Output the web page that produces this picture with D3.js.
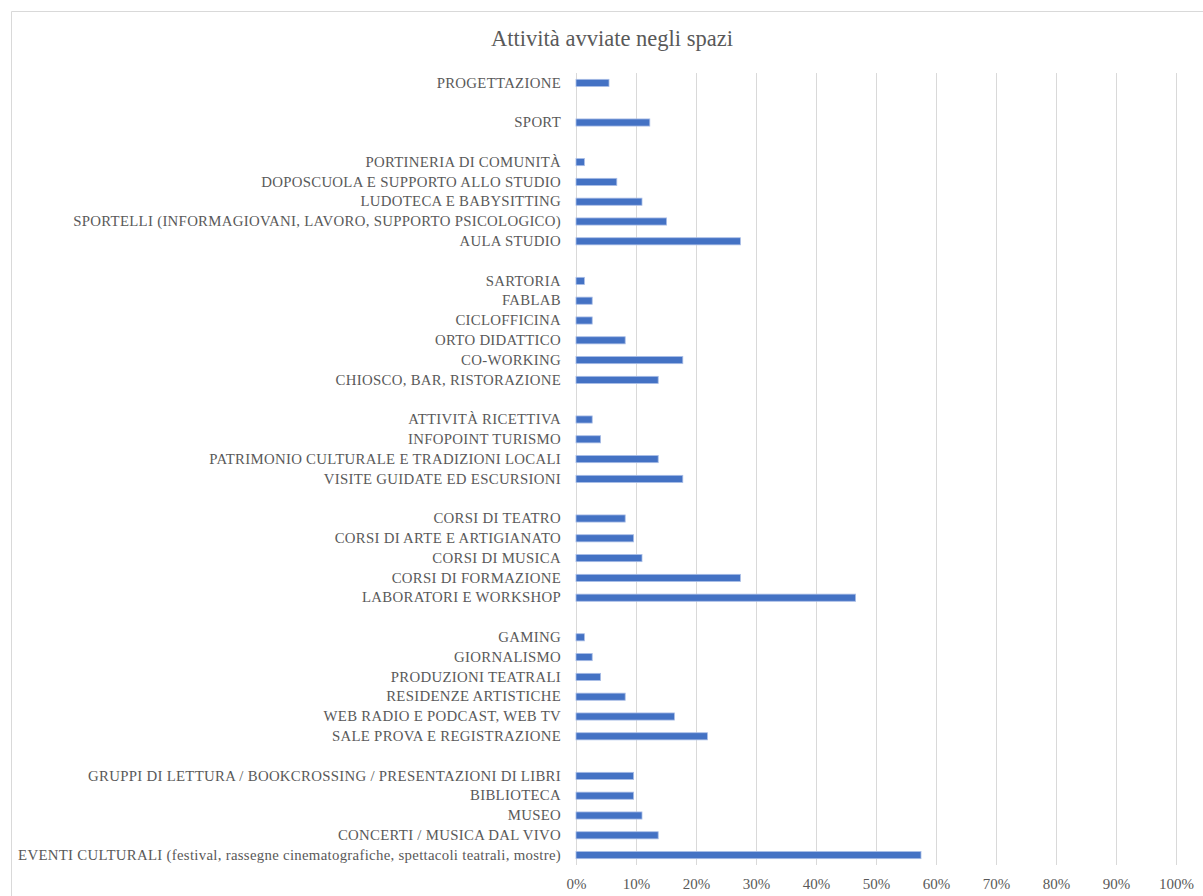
<!DOCTYPE html>
<html>
<head>
<meta charset="utf-8">
<script src="https://cdn.jsdelivr.net/npm/d3@7"></script>
<style>
  html, body { margin: 0; padding: 0; background: #ffffff; }
  svg { display: block; }
  text { font-family: "Liberation Serif", "DejaVu Serif", serif; fill: #595959; }
</style>
</head>
<body>
<svg id="chart" width="1203" height="896"></svg>
<script>
// Activities started in the spaces, share of respondents (top to bottom).
// Empty strings are spacer rows that separate the groups of activities.
const categories = [
  "PROGETTAZIONE",
  "",
  "SPORT",
  "",
  "PORTINERIA DI COMUNITÀ",
  "DOPOSCUOLA E SUPPORTO ALLO STUDIO",
  "LUDOTECA E BABYSITTING",
  "SPORTELLI (INFORMAGIOVANI, LAVORO, SUPPORTO PSICOLOGICO)",
  "AULA STUDIO",
  "",
  "SARTORIA",
  "FABLAB",
  "CICLOFFICINA",
  "ORTO DIDATTICO",
  "CO-WORKING",
  "CHIOSCO, BAR, RISTORAZIONE",
  "",
  "ATTIVITÀ RICETTIVA",
  "INFOPOINT TURISMO",
  "PATRIMONIO CULTURALE E TRADIZIONI LOCALI",
  "VISITE GUIDATE ED ESCURSIONI",
  "",
  "CORSI DI TEATRO",
  "CORSI DI ARTE E ARTIGIANATO",
  "CORSI DI MUSICA",
  "CORSI DI FORMAZIONE",
  "LABORATORI E WORKSHOP",
  "",
  "GAMING",
  "GIORNALISMO",
  "PRODUZIONI TEATRALI",
  "RESIDENZE ARTISTICHE",
  "WEB RADIO E PODCAST, WEB TV",
  "SALE PROVA E REGISTRAZIONE",
  "",
  "GRUPPI DI LETTURA / BOOKCROSSING / PRESENTAZIONI DI LIBRI",
  "BIBLIOTECA",
  "MUSEO",
  "CONCERTI / MUSICA DAL VIVO",
  "EVENTI CULTURALI (festival, rassegne cinematografiche, spettacoli teatrali, mostre)"
];

const values = [
  0.055, null, 0.123, null,
  0.014, 0.068, 0.110, 0.151, 0.274, null,
  0.014, 0.027, 0.027, 0.082, 0.178, 0.137, null,
  0.027, 0.041, 0.137, 0.178, null,
  0.082, 0.096, 0.110, 0.274, 0.466, null,
  0.014, 0.027, 0.041, 0.082, 0.164, 0.219, null,
  0.096, 0.096, 0.110, 0.137, 0.575
];

const tickValues = [0, 0.1, 0.2, 0.3, 0.4, 0.5, 0.6, 0.7, 0.8, 0.9, 1.0];
const chartTitle = "Attività avviate negli spazi";

const svg = d3.select("#chart");
const W = 1203, H = 896;
const margin = { top: 73, right: 27, bottom: 31, left: 576 };
const plotW = W - margin.left - margin.right;
const plotH = H - margin.top - margin.bottom;

// chart frame
svg.append("path")
  .attr("d", `M11.5,${H} L11.5,11.5 L${W},11.5`)
  .attr("fill", "none")
  .attr("stroke", "#d9d9d9")
  .attr("stroke-width", 1);

svg.append("text")
  .attr("x", 612)
  .attr("y", 46)
  .attr("text-anchor", "middle")
  .style("font-size", "22.5px")
  .text(chartTitle);

const g = svg.append("g").attr("transform", `translate(${margin.left},${margin.top})`);

const x = d3.scaleLinear().domain([0, 1]).range([0, plotW]);
const y = d3.scaleBand()
  .domain(d3.range(categories.length))
  .range([0, plotH])
  .paddingInner(0.64)
  .paddingOuter(0.32);

// vertical gridlines
g.append("g")
  .selectAll("line")
  .data(tickValues)
  .join("line")
  .attr("x1", d => Math.round(x(d)) + 0.5)
  .attr("x2", d => Math.round(x(d)) + 0.5)
  .attr("y1", 0)
  .attr("y2", plotH)
  .attr("stroke", "#d9d9d9")
  .attr("stroke-width", 1);

// x axis labels
const xAxis = d3.axisBottom(x)
  .tickValues(tickValues)
  .tickFormat(d3.format(".0%"))
  .tickSize(0)
  .tickPadding(13);
const xg = g.append("g").attr("transform", `translate(0,${plotH})`).call(xAxis);
xg.select(".domain").remove();
xg.selectAll("text")
  .style("font-size", "15px")
  .style("font-family", "\"Liberation Serif\", serif")
  .attr("fill", "#595959");

// category axis
const yAxis = d3.axisLeft(y)
  .tickFormat(i => categories[i])
  .tickSize(0)
  .tickPadding(15);
const yg = g.append("g").call(yAxis);
yg.select(".domain").remove();
yg.selectAll("text")
  .style("font-size", "14.8px")
  .style("letter-spacing", "0.3px")
  .style("font-family", "\"Liberation Serif\", serif")
  .attr("fill", "#595959");

// bars
g.append("g")
  .selectAll("rect")
  .data(values.map((v, i) => ({ v, i })).filter(d => d.v !== null))
  .join("rect")
  .attr("x", x(0))
  .attr("y", d => y(d.i))
  .attr("width", d => x(d.v) - x(0))
  .attr("height", y.bandwidth())
  .attr("fill", "#4472c4")
  .attr("stroke", "#a9bde6")
  .attr("stroke-width", 0.8);
</script>
</body>
</html>
